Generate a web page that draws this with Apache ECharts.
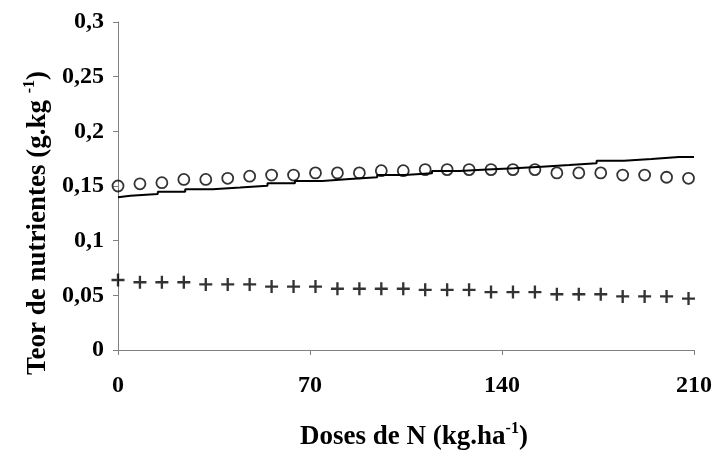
<!DOCTYPE html>
<html>
<head>
<meta charset="utf-8">
<script src="https://cdn.jsdelivr.net/npm/echarts@6/dist/echarts.min.js"></script>
<style>
  html, body { margin: 0; padding: 0; background: #fff; }
  #chart { width: 714px; height: 450px; }
</style>
</head>
<body>
<div id="chart"></div>
<script>
// Doses de N (kg/ha) at which the nutrient contents were sampled
const doses = [0, 8, 16, 24, 32, 40, 48, 56, 64, 72, 80, 88, 96, 104,
               112, 120, 128, 136, 144, 152, 160, 168, 176, 184, 192, 200, 208];

// Teor (g/kg) – circle series
const teorCirculos = [0.150, 0.152, 0.153, 0.156, 0.156, 0.157, 0.159, 0.160, 0.160,
                      0.162, 0.162, 0.162, 0.164, 0.164, 0.165, 0.165, 0.165, 0.165,
                      0.165, 0.165, 0.162, 0.162, 0.162, 0.160, 0.160, 0.158, 0.157];

// Teor (g/kg) – cross series
const teorCruzes = [0.064, 0.062, 0.062, 0.062, 0.060, 0.060, 0.060, 0.058, 0.058,
                    0.058, 0.056, 0.056, 0.056, 0.056, 0.055, 0.055, 0.055, 0.053,
                    0.053, 0.053, 0.051, 0.051, 0.051, 0.049, 0.049, 0.049, 0.047];

// Stepped trend line: dose where each step starts and its level
const linhaDoses = [0, 4.5, 14.5, 24.5, 34.5, 44.5, 54.5, 64.5, 74.5, 84.5, 94.5,
                    104.5, 114.5, 124.5, 134.5, 144.5, 154.5, 164.5, 174.5, 184.5,
                    194.5, 204.5, 210];
const linhaTeor = [0.1397, 0.1411, 0.1427, 0.1448, 0.1470, 0.1486, 0.1503, 0.1525,
                   0.1546, 0.1564, 0.1580, 0.1601, 0.1616, 0.1637, 0.1651, 0.1662,
                   0.1677, 0.1692, 0.1708, 0.1731, 0.1747, 0.1765, 0.1765];

// Tick labels
const yTickLabels = ['0', '0,05', '0,1', '0,15', '0,2', '0,25', '0,3'];
const xTickLabels = ['0', '70', '140', '210'];

const FONT = '"Liberation Serif", "Times New Roman", serif';
const AXIS_GRAY = '#808080';
const TICK_SIZE = 24;
const NAME_SIZE = 27;

const pair = (xs, ys) => xs.map((x, i) => [x, ys[i]]);

const nameRich = {
  t: { fontFamily: FONT, fontWeight: 'bold', fontSize: NAME_SIZE, color: '#000', lineHeight: 32 },
  s: { fontFamily: FONT, fontWeight: 'bold', fontSize: 16, color: '#000', verticalAlign: 'top', lineHeight: 32, padding: [0, 0, 10, 0] }
};

const chart = echarts.init(document.getElementById('chart'), null, { renderer: 'canvas' });

chart.setOption({
  animation: false,
  backgroundColor: '#ffffff',
  grid: {
    left: 118, right: 20, top: 22, bottom: 100,
    containLabel: false,
    outerBoundsMode: 'none'
  },
  xAxis: {
    type: 'value',
    min: 0, max: 210, interval: 70,
    splitLine: { show: false },
    axisLine: { lineStyle: { color: AXIS_GRAY, width: 1 } },
    axisTick: { show: true, length: 5, lineStyle: { color: AXIS_GRAY } },
    axisLabel: {
      margin: 24,
      color: '#000', fontFamily: FONT, fontWeight: 'bold', fontSize: TICK_SIZE,
      formatter: v => xTickLabels[Math.round(v / 70)]
    },
    name: '{t|Doses de N (kg.ha}{s|-1}{t|)}',
    nameLocation: 'middle',
    nameGap: 71,
    nameTextStyle: { padding: [0, 0, 0, 16], rich: nameRich }
  },
  yAxis: {
    type: 'value',
    min: 0, max: 0.3, interval: 0.05,
    splitLine: { show: false },
    axisLine: { show: true, lineStyle: { color: AXIS_GRAY, width: 1 } },
    axisTick: { show: true, length: 5, lineStyle: { color: AXIS_GRAY } },
    axisLabel: {
      margin: 14,
      padding: [5, 0, 0, 0],
      color: '#000', fontFamily: FONT, fontWeight: 'bold', fontSize: TICK_SIZE,
      formatter: v => yTickLabels[Math.round(v / 0.05)]
    },
    name: '{t|Teor de nutrientes (g.kg }{s|-1}{t|)}',
    nameLocation: 'middle',
    nameRotate: 90,
    nameGap: 63,
    nameTextStyle: {
      padding: [0, 74, 0, 0],
      rich: nameRich
    }
  },
  series: [
    {
      name: 'Linha',
      type: 'line',
      step: 'start',
      data: pair(linhaDoses, linhaTeor),
      showSymbol: false,
      symbol: 'none',
      lineStyle: { color: '#000', width: 2 },
      z: 2
    },
    {
      name: 'Círculos',
      type: 'scatter',
      data: pair(doses, teorCirculos),
      symbol: 'circle',
      symbolSize: 11,
      itemStyle: { color: 'rgba(0,0,0,0)', borderColor: '#000', borderWidth: 1.8 },
      z: 3
    },
    {
      name: 'Cruzes',
      type: 'scatter',
      data: pair(doses, teorCruzes),
      symbol: 'path://M4.1,0H5.9V4.1H10V5.9H5.9V10H4.1V5.9H0V4.1H4.1Z',
      symbolSize: 13,
      itemStyle: { color: '#000' },
      z: 3
    }
  ]
});
</script>
</body>
</html>
